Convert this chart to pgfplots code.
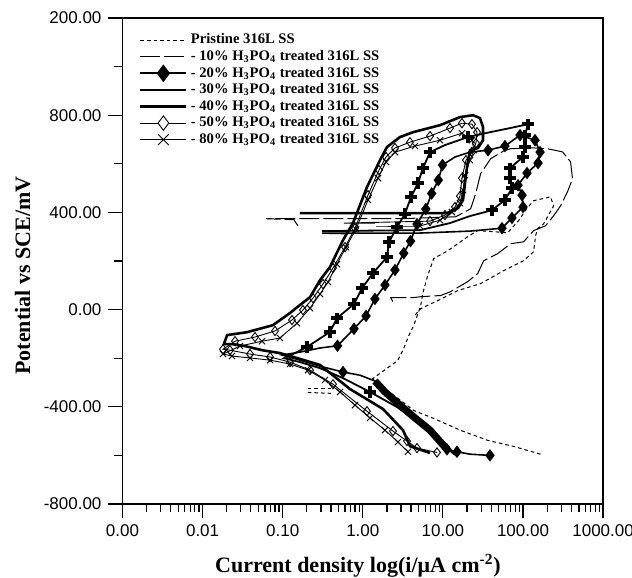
\documentclass[border=0pt]{standalone}
\usepackage{fontspec}
\setmainfont{Liberation Serif}
\newfontfamily\ticksf{Liberation Sans}
\usepackage{pgfplots}
\pgfplotsset{compat=1.18}
\begin{document}
\begin{tikzpicture}
\begin{axis}[
  at={(0,0)}, anchor=south west,
  scale only axis, width=240.3pt, height=243pt,
  xmin=-3, xmax=3, ymin=-800, ymax=1200,
  axis line style={line width=0.6pt},
  xtick={-3,-2,-1,0,1,2,3},
  xticklabels={0.00,0.01,0.10,1.00,10.00,100.00,1000.00},
  minor xtick={-2.69897,-2.52288,-2.39794,-2.30103,-2.22185,-2.15490,-2.09691,-2.04576,
    -1.69897,-1.52288,-1.39794,-1.30103,-1.22185,-1.15490,-1.09691,-1.04576,
    -0.69897,-0.52288,-0.39794,-0.30103,-0.22185,-0.15490,-0.09691,-0.04576,
    0.30103,0.47712,0.60206,0.69897,0.77815,0.84510,0.90309,0.95424,
    1.30103,1.47712,1.60206,1.69897,1.77815,1.84510,1.90309,1.95424,
    2.30103,2.47712,2.60206,2.69897,2.77815,2.84510,2.90309,2.95424},
  ytick={-800,-400,0,400,800,1200},
  yticklabels={-800.00,-400.00,0.00,400.00,800.00,200.00},
  minor ytick={-600,-200,200,600,1000},
  tick align=outside, xtick pos=left, ytick pos=left,
  major tick length=7pt, minor tick length=4pt,
  every tick/.style={black, line width=0.6pt},
  tick label style={font=\ticksf\fontsize{8.5}{10}\selectfont},
  xlabel={Current density log(i/μA cm\textsuperscript{-2})},
  ylabel={Potential vs SCE/mV},
  every axis x label/.style={at={(axis description cs:0.49,-0.128)}, anchor=center,
    font=\fontsize{11}{13}\selectfont\bfseries},
  every axis y label/.style={at={(axis description cs:-0.208,0.47)}, rotate=90, anchor=center,
    font=\fontsize{11}{13}\selectfont\bfseries},
  legend style={draw=none, fill=none, at={(0,1)}, anchor=north west, xshift=5pt, yshift=-5pt,
    font=\fontsize{7.3}{8.5}\selectfont\bfseries, row sep=0.6pt,
    nodes={inner ysep=0.3pt, inner xsep=1.5pt, text height=5.5pt, text depth=1.6pt}},
  legend cell align=left,
]
% Pristine
\addplot[black, line width=0.5pt, dash pattern=on 1.8pt off 1.5pt,
  legend image code/.code={\draw[black, line width=0.5pt, dash pattern=on 1.8pt off 1.5pt] (0pt,0pt) -- (23pt,0pt);}]
 coordinates {(2.219,-595) (1.883,-563) (1.559,-538) (1.222,-497) (0.885,-448) (0.636,-415)
 (0.411,-358) (0.224,-316) (0.125,-284) (0.262,-251) (0.436,-210) (0.511,-160) (0.574,-107)
 (0.636,-66) (0.723,16) (0.748,66) (0.810,140) (0.885,210) (1.060,242) (1.185,271) (1.309,300)
 (1.434,325) (1.621,321) (1.808,316) (1.945,366) (2.045,415) (2.132,448) (2.344,464) (2.382,427)
 (2.307,382) (2.257,353) (2.182,333) (2.157,304) (2.132,238) (2.007,201) (1.758,160) (1.471,107)
 (1.185,78) (0.935,37) (0.723,4) (0.636,-29)};
\addlegendentry{Pristine 316L SS}
% 10%
\addplot[black, line width=0.5pt, dash pattern=on 10pt off 2pt,
  legend image code/.code={\draw[black, line width=0.5pt, dash pattern=on 10pt off 2pt] (0pt,0pt) -- (23pt,0pt);}]
 coordinates {(0.374,33) (0.349,49) (0.623,49) (0.723,53) (0.973,58) (1.097,74) (1.309,115)
 (1.434,148) (1.509,201) (1.683,230) (1.845,271) (2.007,279) (2.132,325) (2.282,345) (2.382,386)
 (2.469,427) (2.556,485) (2.618,538) (2.594,608) (2.494,649) (2.307,662) (2.095,666) (1.845,662)
 (1.758,653) (1.596,621) (1.471,559) (1.409,477) (1.347,415) (1.160,382) (0.474,374) (-1.209,374)
 (-0.860,370) (-0.810,345)};
\addlegendentry{- 10\% H\textsubscript{3}PO\textsubscript{4} treated 316L SS}
% 20%
\addplot[black, line width=0.8pt, mark=diamond*, mark size=2.5pt, mark options={solid},
  mark indices={1,3,4,11,17,18,19,20,21,22,23,24,25,26,27,28,29,32,33,34,35,36,37,38,39,40,41,42,43},
  legend image code/.code={\draw[black, line width=0.8pt] (0pt,0pt) -- (23pt,0pt);
     \draw[black] plot[mark=diamond*, mark size=3.8pt] coordinates {(11.5pt,0pt)};}]
 coordinates {(1.588,-600) (1.338,-595) (1.176,-585) (1.051,-575) (0.839,-496) (0.652,-446)
 (0.465,-393) (0.277,-339) (0.152,-294) (-0.035,-270) (-0.247,-257) (-0.534,-233) (-0.784,-208)
 (-1.009,-187) (-0.784,-175) (-0.534,-158) (-0.316,-149) (-0.110,-79) (0.040,-26) (0.152,44)
 (0.277,101) (0.402,163) (0.511,232) (0.596,282) (0.677,352) (0.787,414) (0.860,478) (0.943,533)
 (0.995,595) (1.151,628) (1.338,648) (1.563,656) (1.775,673) (1.963,718) (2.150,697) (2.213,648)
 (2.188,603) (2.050,562) (1.938,512) (1.988,471) (2.000,422) (1.862,377) (1.738,335) (1.338,323)
 (0.714,315) (-0.509,315) (-0.222,313)};
\addlegendentry{- 20\% H\textsubscript{3}PO\textsubscript{4} treated 316L SS}
% 30%
\addplot[black, line width=0.9pt, mark=+, mark size=2.8pt, mark options={line width=1.9pt},
  mark indices={5,11,12,13,14,15,16,17,18,19,20,21,22,23,24,26,29,30,31,32,33,34,35,36,37},
  legend image code/.code={\draw[black, line width=0.9pt] (0pt,0pt) -- (23pt,0pt);
     \draw[black] plot[mark=+, mark size=3.6pt, mark options={line width=2.6pt}] coordinates {(11.5pt,0pt)};}]
 coordinates {(1.151,-598) (0.964,-545) (0.714,-471) (0.427,-401) (0.090,-339) (-0.247,-282)
 (-0.534,-241) (-0.784,-216) (-0.984,-200) (-0.846,-179) (-0.697,-154) (-0.410,-92) (-0.322,-35)
 (-0.110,23) (-0.010,88) (0.127,150) (0.302,216) (0.327,278) (0.427,339) (0.527,395) (0.602,463)
 (0.689,521) (0.751,582) (0.839,648) (1.026,677) (1.313,710) (1.588,730) (1.838,747) (2.062,763)
 (2.025,718) (2.025,669) (2.000,628) (1.838,582) (1.838,541) (1.863,500) (1.775,451) (1.613,409)
 (1.338,385) (1.088,356) (0.714,327) (-0.509,323) (-0.160,323)};
\addlegendentry{- 30\% H\textsubscript{3}PO\textsubscript{4} treated 316L SS}
% 40%
\addplot[black, line width=1.3pt,
  legend image code/.code={\draw[black, line width=1.5pt] (0pt,0pt) -- (23pt,0pt);}]
 coordinates {(0.839,-590) (0.589,-562) (0.502,-496) (0.252,-409) (-0.160,-327) (-0.534,-228)
 (-0.784,-203) (-1.034,-179) (-1.258,-167) (-1.471,-150) (-1.633,-142) (-1.733,-142) (-1.695,-105)
 (-1.446,-93) (-1.121,-64) (-0.909,-14) (-0.784,19) (-0.659,51) (-0.534,121) (-0.410,175)
 (-0.247,286) (-0.122,356) (0.052,504) (0.215,615) (0.302,669) (0.464,710) (0.627,730) (0.964,759)
 (1.213,792) (1.376,800) (1.463,788) (1.501,751) (1.501,697) (1.438,665) (1.338,656) (1.301,586)
 (1.276,521) (1.251,451) (1.189,418) (1.051,397) (-0.784,397) (-0.410,397)};
\addlegendentry{- 40\% H\textsubscript{3}PO\textsubscript{4} treated 316L SS}
% 50%
\addplot[black, line width=0.45pt, mark=diamond, mark size=2.3pt,
  legend image code/.code={\draw[black, line width=0.5pt] (0pt,0pt) -- (23pt,0pt);
     \draw[black] plot[mark=diamond*, mark size=3.6pt, mark options={fill=white}] coordinates {(11.5pt,0pt)};}]
 coordinates {(0.926,-588) (0.677,-570) (0.552,-541) (0.377,-500) (0.052,-418) (-0.372,-307)
 (-0.659,-249) (-0.909,-216) (-1.158,-195) (-1.408,-183) (-1.658,-167) (-1.745,-163) (-1.595,-130)
 (-1.346,-113) (-1.096,-88) (-0.884,-43) (-0.747,-2) (-0.622,47) (-0.497,105) (-0.372,171)
 (-0.222,257) (-0.097,335) (0.065,471) (0.202,574) (0.290,628) (0.402,665) (0.589,689) (0.839,714)
 (1.089,747) (1.238,767) (1.363,763) (1.426,730) (1.413,685) (1.363,648) (1.288,615) (1.238,541)
 (1.213,467) (1.151,422) (1.026,389) (0.839,364)};
\addlegendentry{- 50\% H\textsubscript{3}PO\textsubscript{4} treated 316L SS}
% 80%
\addplot[black, line width=0.45pt, mark=x, mark size=2.2pt,
  legend image code/.code={\draw[black, line width=0.5pt] (0pt,0pt) -- (23pt,0pt);
     \draw[black] plot[mark=x, mark size=3.8pt] coordinates {(11.5pt,0pt)};}]
 coordinates {(0.564,-585) (0.439,-545) (0.277,-496) (0.090,-446) (-0.097,-393) (-0.285,-339)
 (-0.472,-290) (-0.684,-249) (-0.909,-224) (-1.158,-208) (-1.408,-199) (-1.633,-191) (-1.745,-183)
 (-1.533,-150) (-1.258,-130) (-1.034,-117) (-0.822,-56) (-0.659,6) (-0.534,64) (-0.434,113)
 (-0.322,187) (-0.210,257) (-0.085,331) (0.065,451) (0.190,541) (0.290,607) (0.402,648) (0.652,673)
 (0.964,697) (1.238,726) (1.363,697) (1.388,656) (1.338,615) (1.276,553) (1.251,492) (1.213,438)
 (1.114,401) (0.964,368) (0.714,344)};
\addlegendentry{- 80\% H\textsubscript{3}PO\textsubscript{4} treated 316L SS}
% extra pieces
\addplot[black, line width=0.5pt, dash pattern=on 1.8pt off 1.5pt, forget plot]
 coordinates {(-0.686,-325) (-0.362,-325)};
\addplot[black, line width=0.5pt, dash pattern=on 1.8pt off 1.5pt, forget plot]
 coordinates {(-0.686,-341) (-0.362,-345)};
\addplot[black, line width=3.6pt, forget plot]
 coordinates {(1.051,-575) (0.839,-496) (0.652,-446) (0.465,-393) (0.277,-339) (0.152,-294)};
\addplot[black, line width=0.45pt, forget plot]
 coordinates {(0.839,364) (-0.235,356) (0.152,356)};
\addplot[black, line width=0.45pt, forget plot]
 coordinates {(0.714,344) (0.165,344) (0.464,344)};
\end{axis}
\pgfresetboundingbox
\path (-61.25pt,-37pt) rectangle (254.75pt,252pt);
\end{tikzpicture}
\end{document}
